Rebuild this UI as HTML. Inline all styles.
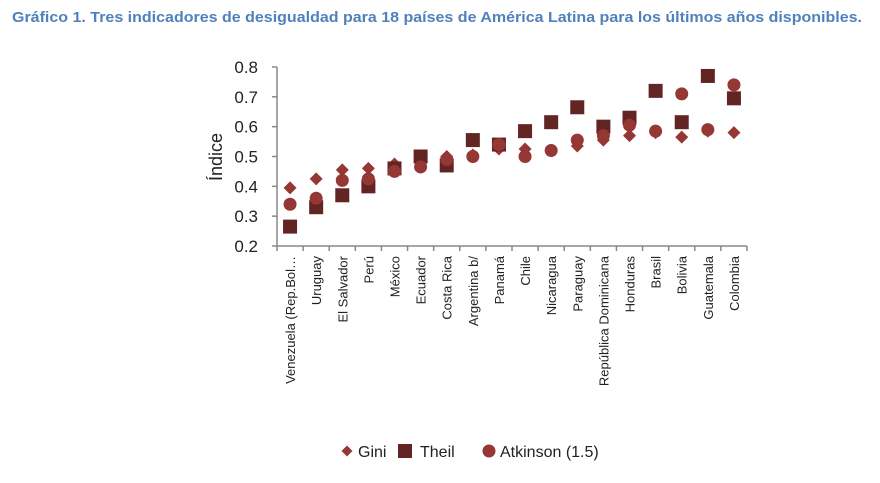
<!DOCTYPE html>
<html><head><meta charset="utf-8"><style>
body{margin:0;background:#fff;font-family:"Liberation Sans",sans-serif}
</style></head><body>
<svg id="c" width="880" height="478" xmlns="http://www.w3.org/2000/svg">
<text x="12" y="22" textLength="850" lengthAdjust="spacingAndGlyphs" font-size="15" font-weight="bold" fill="#4f81bd">Gráfico 1. Tres indicadores de desigualdad para 18 países de América Latina para los últimos años disponibles.</text>
<g id="plot"></g>
</svg>
<script>
const categories=["Venezuela (Rep.Bol…","Uruguay","El Salvador","Perú","México","Ecuador","Costa Rica","Argentina b/","Panamá","Chile","Nicaragua","Paraguay","República Dominicana","Honduras","Brasil","Bolivia","Guatemala","Colombia"];
const gini=[0.395,0.425,0.455,0.46,0.475,0.49,0.50,0.505,0.525,0.525,0.52,0.535,0.555,0.57,0.58,0.565,0.585,0.58];
const theil=[0.265,0.33,0.37,0.40,0.46,0.50,0.47,0.555,0.54,0.585,0.615,0.665,0.60,0.63,0.72,0.615,0.77,0.695];
const atkinson=[0.34,0.36,0.42,0.425,0.45,0.465,0.49,0.50,0.54,0.50,0.52,0.555,0.57,0.605,0.585,0.71,0.59,0.74];
const yTicks=[0.2,0.3,0.4,0.5,0.6,0.7,0.8];
const NS="http://www.w3.org/2000/svg";
const g=document.getElementById('plot');
const X0=277,X1=747,Y0=246,Y1=67;
const bw=(X1-X0)/categories.length;
const xs=i=>X0+bw*(i+0.5);
const ys=v=>Y0-(v-0.2)/(0.6)*(Y0-Y1);
function mk(t,a){const e=document.createElementNS(NS,t);for(const k in a)e.setAttribute(k,a[k]);g.appendChild(e);return e;}
let ax=mk('line',{x1:X0,y1:Y1,x2:X0,y2:Y0,stroke:'#888','stroke-width':1.5});


let bx=mk('line',{x1:X0,y1:Y0,x2:X1,y2:Y0,stroke:'#888','stroke-width':1.5});


yTicks.forEach(v=>{
 mk('line',{x1:X0-5,y1:ys(v),x2:X0,y2:ys(v),stroke:'#888','stroke-width':1.5});
 const t=mk('text',{x:X0-19,y:ys(v)+6,'text-anchor':'end','font-size':17,fill:'#222'});
 t.textContent=v.toFixed(1);
 
 
});
for(let i=0;i<=categories.length;i++)mk('line',{x1:X0+bw*i,y1:Y0,x2:X0+bw*i,y2:Y0+5,stroke:'#888','stroke-width':1.5});
categories.forEach((c,i)=>{
 const t=mk('text',{transform:`translate(${xs(i)+5},${Y0+10}) rotate(-90)`,'text-anchor':'end','font-size':13,fill:'#222'});
 t.textContent=c;
 
 
});
const yt=mk('text',{transform:`translate(222,157) rotate(-90)`,'text-anchor':'middle','font-size':18,fill:'#222'});
yt.textContent='Índice';


function diamond(x,y,s){return `${x},${y-s} ${x+s},${y} ${x},${y+s} ${x-s},${y}`;}
gini.forEach((v,i)=>{const p=mk('polygon',{points:diamond(xs(i),ys(v),6.5),fill:'#953735'});
 
 });
theil.forEach((v,i)=>{const p=mk('rect',{x:xs(i)-7,y:ys(v)-7,width:14,height:14,fill:'#632523'});
 
 });
atkinson.forEach((v,i)=>{const p=mk('circle',{cx:xs(i),cy:ys(v),r:6.5,fill:'#953735'});
 
 });
let p1=mk('polygon',{points:diamond(347,451,5.5),fill:'#953735'});


let p2=mk('rect',{x:398,y:444,width:14,height:14,fill:'#632523'});


let p3=mk('circle',{cx:489,cy:451,r:6.5,fill:'#953735'});


[['Gini',358],['Theil',420],['Atkinson (1.5)',500]].forEach(([s,x])=>{
 const t=mk('text',{x:x,y:457,'font-size':16,fill:'#222'});t.textContent=s;
 
 
});
</script>
</body></html>
